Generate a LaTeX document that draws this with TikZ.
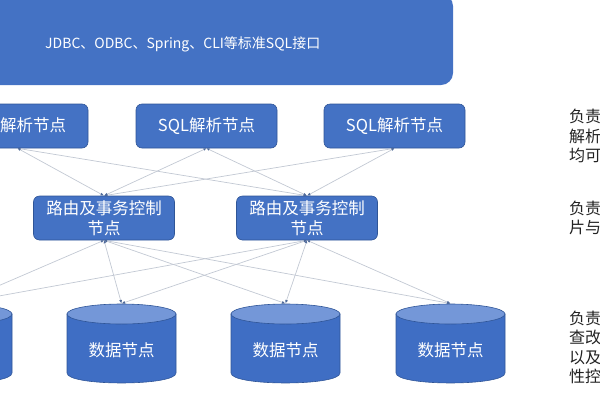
\documentclass[tikz,border=0pt]{standalone}
\usepackage{fontspec}
\setmainfont{Noto Sans CJK SC}
\usetikzlibrary{arrows.meta}
\definecolor{mblue}{HTML}{4472C4}
\definecolor{bblue}{HTML}{2F5597}
\definecolor{cylbody}{HTML}{3F6EC4}
\definecolor{cyltop}{HTML}{7497D8}
\definecolor{conncol}{HTML}{C2C8D3}
\definecolor{tipcol}{HTML}{4F6A9A}
\definecolor{sidetext}{HTML}{222222}
\begin{document}
\begin{tikzpicture}[x=1pt,y=-1pt,
  banner/.style={rectangle,rounded corners=12pt,fill=mblue,draw=none,minimum width=473pt,minimum height=91pt,inner sep=0pt},
  sqlbox/.style={rectangle,rounded corners=6pt,fill=mblue,draw=bblue,line width=0.6pt,minimum width=141pt,minimum height=44pt,inner sep=0pt,text=white,font=\fontsize{16.5}{19}\selectfont},
  routebox/.style={sqlbox,align=center,font=\fontsize{16.5}{19.5}\selectfont},
  dblabel/.style={text=white,inner sep=0pt,font=\fontsize{16.5}{19}\selectfont},
  cylside/.style={fill=cylbody,draw=bblue,line width=0.6pt},
  cylcap/.style={fill=cyltop,draw=bblue,line width=0.6pt},
  conn/.style={draw=conncol,line width=0.7pt,{Latex[length=3pt,width=2.6pt,color=tipcol]}-{Latex[length=3.5pt,width=3pt,color=tipcol]}},
  side/.style={anchor=west,align=left,inner sep=0pt,text=sidetext,font=\fontsize{16}{19.5}\selectfont}
]
\useasboundingbox (0,0) rectangle (600,400);
\clip (0,0) rectangle (600,400);

% banner
\node[banner] (banner) at (216.5,39.5) {};
\node[anchor=west,text=white,inner sep=0pt,font=\fontsize{14}{16}\selectfont] (btext) at (45,44) {JDBC、ODBC、Spring、CLI等标准SQL接口};

% SQL parse nodes
\node[sqlbox] (s1) at (17.5,126) {SQL解析节点};
\node[sqlbox] (s2) at (206.5,126) {SQL解析节点};
\node[sqlbox] (s3) at (394.5,126) {SQL解析节点};

% routing nodes
\node[routebox] (r1) at (104,218) {路由及事务控制\\节点};
\node[routebox] (r2) at (307,218) {路由及事务控制\\节点};

% data nodes (cylinders); the leftmost one lies mostly outside the frame
\foreach \cx/\nm in {-42.5/d0,121.5/d1,285.5/d2,450.5/d3}{
  \filldraw[cylside] ({\cx-54.5},314) -- ({\cx-54.5},373)
     .. controls ({\cx-54.5},386.3) and ({\cx+54.5},386.3) .. ({\cx+54.5},373)
     -- ({\cx+54.5},314) -- cycle;
  \filldraw[cylcap] (\cx,314) ellipse[x radius=54.5,y radius=10];
  \coordinate (\nm) at (\cx,303.5);
}
\node[dblabel] (d1l) at (121.5,350) {数据节点};
\node[dblabel] (d2l) at (285.5,350) {数据节点};
\node[dblabel] (d3l) at (450.5,350) {数据节点};

% connectors SQL -> routing
\foreach \s in {s1,s2,s3}{
  \foreach \r in {r1,r2}{
    \draw[conn] (\s.south) -- (\r.north);
  }
}
% connectors routing -> data
\foreach \r in {r1,r2}{
  \foreach \d in {d0,d1,d2,d3}{
    \draw[conn] (\r.south) -- (\d);
  }
}

% side descriptions (clipped at the right edge)
\node[side] (t1) at (569,136) {负责\\解析\\均可};
\node[side] (t2) at (569,218) {负责\\片与};
\node[side] (t3) at (569,347.5) {负责\\查改\\以及\\性控};
\end{tikzpicture}
\end{document}
